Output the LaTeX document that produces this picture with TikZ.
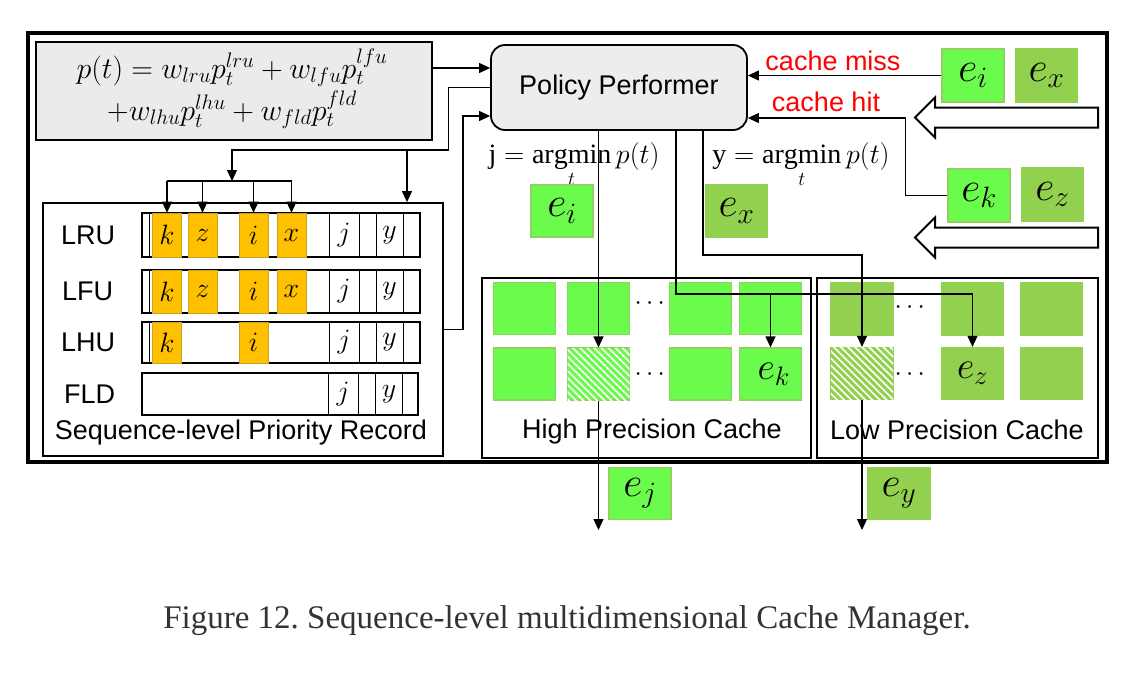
\RequirePackage{fix-cm}
\documentclass[tikz,border=0pt]{standalone}
\usepackage{amsmath}
\usepackage{fontspec}
\setmainfont{Liberation Serif}
\setsansfont{Liberation Sans}
\usetikzlibrary{positioning,arrows.meta,patterns.meta}
\definecolor{hgreen}{HTML}{6BFB4D}
\definecolor{hedge}{HTML}{93D15E}
\definecolor{lgreen}{HTML}{92D050}
\definecolor{orng}{HTML}{FFC000}
\definecolor{oedge}{HTML}{C9A227}
\definecolor{capgray}{HTML}{333333}

\begin{document}
\begin{tikzpicture}[x=1pt,y=-1pt,>={Triangle[length=11pt,width=10pt]},line width=1.2pt,
    box/.style={draw,line width=1.8pt,inner sep=0pt},
    lab/.style={font=\sffamily\fontsize{27}{32}\selectfont},
    elab/.style={font=\fontsize{42}{46}\selectfont},
    hcell/.style={fill=hgreen,draw=hedge,line width=1.2pt,minimum width=62,minimum height=52,inner sep=0pt},
    lcell/.style={fill=lgreen,draw=lgreen,line width=1.2pt,minimum width=62,minimum height=52,inner sep=0pt},
    hatch/.style={postaction={pattern={Lines[angle=-45,distance=5pt,line width=1.6pt]},pattern color=white}},
    row/.style={draw,line width=2pt,minimum width=278,inner sep=0pt},
    ocell/.style={fill=orng,draw=oedge,line width=0.6pt,minimum width=29,inner sep=0pt,font=\fontsize{28}{32}\selectfont},
    wcell/.style={draw,line width=0.8pt,inner sep=0pt,font=\fontsize{28}{32}\selectfont},
    inarrow/.style={draw,line width=2pt,line join=miter}]

    \useasboundingbox (0,0) rectangle (1134,680);
    \draw[line width=3.5pt] (28,33) rectangle (1107,462);

    \node[box,fill=black!8,minimum width=396,minimum height=98] (fml) at (234,91) {};
    \node[inner sep=0pt,font=\fontsize{30}{30}\selectfont] (fml1) at (232,68) {$p(t)=w_{lru}p_t^{lru}+w_{lfu}p_t^{lfu}$};
    \node[inner sep=0pt,font=\fontsize{30}{30}\selectfont] (fml2) at (232,110) {$+w_{lhu}p_t^{lhu}+w_{fld}p_t^{fld}$};
    \node[box,rounded corners=14pt,fill=black!7,minimum width=256,minimum height=85,lab] (pp) at (619,87.5) {Policy Performer};

    \node[hcell,minimum height=53,elab] (ei) at (973,75.5) {$e_i$};
    \node[lcell,minimum height=53,elab] (ex) at (1046.5,75.5) {$e_x$};
    \node[hcell,minimum height=53,elab] (ek) at (979,195.5) {$e_k$};
    \node[lcell,minimum height=53,elab] (ez) at (1052.5,194.5) {$e_z$};
    % incoming requests
    \draw[inarrow] (915,117.5) -- (935,97.5) -- (935,107.5) -- (1098,107.5) -- (1098,127.5) -- (935,127.5) -- (935,137.5) -- cycle;
    \draw[inarrow] (915,237.5) -- (935,217.5) -- (935,227.5) -- (1098,227.5) -- (1098,247.5) -- (935,247.5) -- (935,257.5) -- cycle;
    \node[lab,text=red] (miss) at (833,61) {cache miss};
    \node[lab,text=red] (hit) at (826,102) {cache hit};

    \node[font=\fontsize{28}{30}\selectfont] (am1) at (574,165) {$\displaystyle\mathrm{j}=\operatorname*{argmin}_t p(t)$};
    \node[font=\fontsize{28}{30}\selectfont] (am2) at (801,165) {$\displaystyle\mathrm{y}=\operatorname*{argmin}_t p(t)$};
    \node[hcell,elab] (ei2) at (562,211) {$e_i$};
    \node[lcell,elab] (ex2) at (736.5,211) {$e_x$};

    % priority record
    \node[box,minimum width=400,minimum height=253] (rec) at (243,329.5) {};
    \node[lab] (rcap) at (241,433) {Sequence-level Priority Record};

    \node[row,minimum height=44] (r1) at (281,235) {};
    \node[row,minimum height=43] (r2) at (281,291.5) {};
    \node[row,minimum height=41] (r3) at (281,342.5) {};
    \node[row,minimum width=276,minimum height=42] (r4) at (280,394) {};
    \node[lab,left=22pt of r1] (n1) {LRU};
    \node[lab,left=24pt of r2] (n2) {LFU};
    \node[lab,left=22pt of r3] (n3) {LHU};
    \node[lab,left=22pt of r4] (n4) {FLD};

    \draw[line width=0.8pt] ([xshift=8pt]r1.north west) -- ([xshift=8pt]r1.south west);
    \draw[line width=0.8pt] ([xshift=8pt]r2.north west) -- ([xshift=8pt]r2.south west);
    \draw[line width=0.8pt] ([xshift=8pt]r3.north west) -- ([xshift=8pt]r3.south west);

    \node[ocell,minimum height=44] (r1k) at (167,235) {$k$};
    \node[ocell,minimum height=44] (r1z) at (202.5,235) {$z$};
    \node[ocell,minimum height=44] (r1i) at (253.5,235) {$i$};
    \node[ocell,minimum height=44] (r1x) at (291.5,235) {$x$};
    \node[ocell,minimum height=43] (r2k) at (167,291.5) {$k$};
    \node[ocell,minimum height=43] (r2z) at (202.5,291.5) {$z$};
    \node[ocell,minimum height=43] (r2i) at (253.5,291.5) {$i$};
    \node[ocell,minimum height=43] (r2x) at (291.5,291.5) {$x$};
    \node[ocell,minimum height=41] (r3k) at (167,342.5) {$k$};
    \node[ocell,minimum height=41] (r3i) at (253.5,342.5) {$i$};

    \node[wcell,minimum width=30,minimum height=44] (r1j) at (344,235) {$j$};
    \node[wcell,minimum width=27,minimum height=44] (r1y) at (389.5,235) {$y$};
    \node[wcell,minimum width=30,minimum height=43] (r2j) at (344,291.5) {$j$};
    \node[wcell,minimum width=27,minimum height=43] (r2y) at (389.5,291.5) {$y$};
    \node[wcell,minimum width=30,minimum height=41] (r3j) at (344,342.5) {$j$};
    \node[wcell,minimum width=27,minimum height=41] (r3y) at (389.5,342.5) {$y$};
    \node[wcell,minimum width=30,minimum height=42] (r4j) at (343,394) {$j$};
    \node[wcell,minimum width=27,minimum height=42] (r4y) at (389,394) {$y$};

    % caches
    \node[box,minimum width=329,minimum height=180] (hpc) at (646.5,368) {};
    \node[box,minimum width=281,minimum height=180] (lpc) at (957.5,368) {};
    \node[lab] (hcap) at (652,432) {High Precision Cache};
    \node[lab] (lcap) at (957,430) {Low Precision Cache};

    \node[hcell] (h11) at (524.5,308.5) {};
    \node[hcell] (h12) at (598.5,308.5) {};
    \node[hcell] (h13) at (700.5,308.5) {};
    \node[hcell] (h14) at (770.5,308.5) {};
    \node[hcell] (h21) at (524.5,374) {};
    \node[hcell,hatch] (hh) at (598.5,374) {};
    \node[hcell] (h23) at (700.5,374) {};
    \node[hcell,font=\fontsize{38}{40}\selectfont] (hk) at (770.5,374) {\,$e_k$};
    \node[font=\fontsize{26}{26}\selectfont] (d1) at (652,304) {$\cdots$};
    \node[font=\fontsize{26}{26}\selectfont] (d2) at (652,375) {$\cdots$};

    \node[lcell] (l11) at (862,309) {};
    \node[lcell] (l12) at (972.5,309) {};
    \node[lcell] (l13) at (1051.5,309) {};
    \node[lcell,hatch] (lh) at (862,373.5) {};
    \node[lcell,font=\fontsize{38}{40}\selectfont] (lz) at (972.5,373.5) {$e_z$};
    \node[lcell] (l23) at (1051.5,373.5) {};
    \node[font=\fontsize{26}{26}\selectfont] (d3) at (912,308) {$\cdots$};
    \node[font=\fontsize{26}{26}\selectfont] (d4) at (912,375) {$\cdots$};

    \node[hcell,elab] (ej) at (640,493.5) {$e_j$};
    \node[lcell,elab] (ey) at (899,493.5) {$e_y$};

    \node[font=\fontsize{33}{40}\selectfont\frenchspacing,text=capgray] (cap) at (567,621) {Figure 12. Sequence-level multidimensional Cache Manager.};

    % connectors
    \coordinate (f1) at (fml1 -| fml.east);
    \coordinate (upd) at (232,181);
    \coordinate (rst) at (407,150);
    \coordinate (p3) at ([yshift=-28.5pt]pp.west);
    \coordinate (p4) at ([yshift=-30.5pt]pp.east);
    \coordinate (q2) at ([xshift=57pt]pp.south);
    \coordinate (q3) at ([xshift=84pt]pp.south);
    \coordinate (br) at (770.5,293);
    \coordinate (outj) at (598.5,530);
    \coordinate (outy) at (862,530);

    \draw[->] (f1) -- (f1 -| pp.west);
    \draw[->] (pp.west) -- ++(-42,0) |- (upd |- rst) -- (upd);
    \draw[->] (rst) -- (rst |- rec.north);
    \draw[->] (rec.east) -- ++(19,0) |- (p3);
    \draw (r1k.north |- upd) -- (r1x.north |- upd);
    \draw[->] (r1k.north |- upd) -- (r1k.north);
    \draw[->] (r1z.north |- upd) -- (r1z.north);
    \draw[->] (r1i.north |- upd) -- (r1i.north);
    \draw[->] (r1x.north |- upd) -- (r1x.north);

    \draw[->] (ei.west) -- (ei.west -| pp.east);
    \draw[->] (ek.west) -- ++(-42,0) |- (p4);

    \draw[->] (hh.north |- pp.south) -- (hh.north);
    \draw[->] (q2) -- ++(0,163) -| (lz.north);
    \draw[->] (br) -- (hk.north);
    \draw[->] (q3) -- ++(0,124) -| (lh.north);
    \draw[->] (hh.south) -- (outj);
    \draw[->] (lh.south) -- (outy);
\end{tikzpicture}
\end{document}
